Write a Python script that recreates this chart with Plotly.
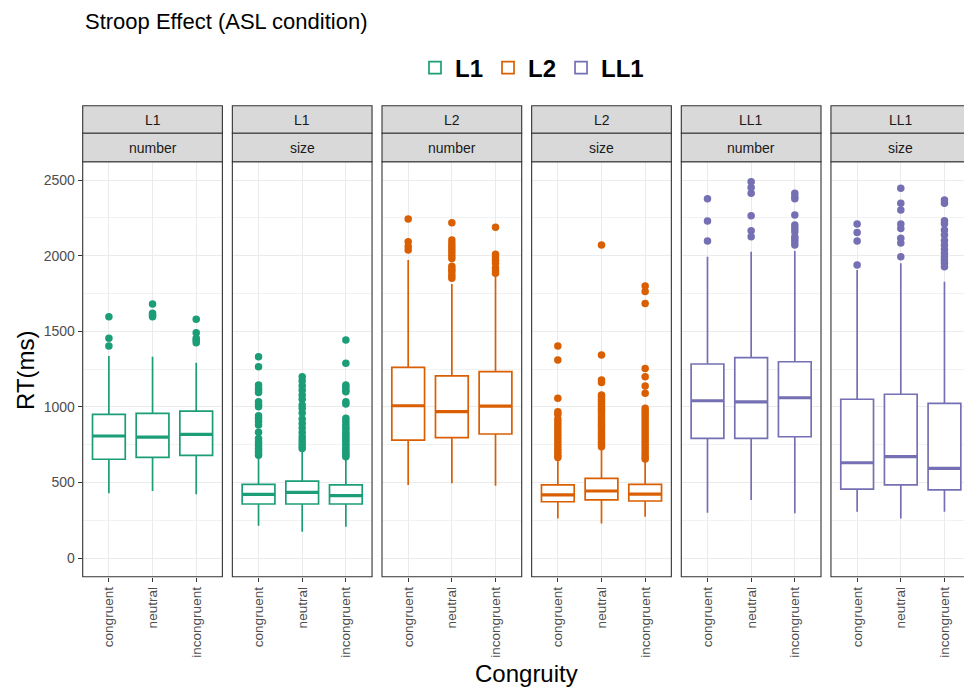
import plotly.graph_objects as go

# ---------------- data ----------------
conditions = ["congruent", "neutral", "incongruent"]
facet_groups = ["L1", "L1", "L2", "L2", "LL1", "LL1"]
facet_tasks = ["number", "size", "number", "size", "number", "size"]
group_colors = {"L1": "#1B9E77", "L2": "#D95F02", "LL1": "#7570B3"}

q1 = [[653, 666, 679], [357, 357, 357], [780, 796, 820],
      [372, 384, 377], [791, 791, 802], [456, 483, 450]]
median = [[807, 800, 818], [421, 434, 412], [1007, 968, 1005],
          [417, 443, 423], [1040, 1032, 1060], [630, 670, 593]]
q3 = [[950, 957, 972], [487, 509, 483], [1261, 1204, 1232],
      [483, 527, 487], [1283, 1325, 1298], [1050, 1083, 1023]]
lower_whisker = [[428, 443, 421], [214, 174, 207], [483, 494, 478],
                 [262, 229, 273], [300, 384, 296], [306, 262, 306]]
upper_whisker = [[1336, 1331, 1292], [665, 714, 657], [1971, 1812, 1861],
                 [648, 730, 645], [1993, 2026, 2030], [1905, 1949, 1827]]

outliers = [
    [[1596, 1453, 1402],
     [1680, 1618, 1605, 1596],
     [1579, 1490, 1453, 1440, 1424]],
    [[1331, 1265, 1144, 1125, 1110, 1095, 1034, 1015, 1000, 940, 924, 905, 880,
      831, 790, 769, 755, 740, 725, 710, 695, 680],
     [1199, 1170, 1140, 1110, 1078, 1050, 1012, 990, 959, 920, 890, 860, 830,
      802, 780, 760, 740, 725],
     [1442, 1288, 1144, 1130, 1110, 1100, 1034, 1019, 925, 905, 885, 865, 850,
      830, 815, 800, 785, 770, 755, 740, 725, 710, 695, 680, 670]],
    [[2242, 2092, 2060, 2037],
     [2218, 2103, 2080, 2060, 2040, 2020, 2000, 1980, 1930, 1910, 1894, 1870, 1850],
     [2187, 2009, 1990, 1970, 1949, 1918, 1900, 1883]],
    [[1402, 1310, 1056, 968, 950, 920, 900, 880, 860, 840, 820, 800, 780, 760,
      740, 720, 700, 680, 665],
     [2070, 1343, 1177, 1160, 1078, 1065, 1050, 1035, 1020, 1005, 990, 975, 960,
      945, 930, 915, 900, 885, 870, 855, 840, 825, 810, 795, 780, 765, 750, 736],
     [1799, 1762, 1684, 1254, 1199, 1138, 1089, 990, 970, 950, 930, 910, 890,
      870, 850, 830, 810, 790, 770, 750, 730, 710, 690, 670, 655]],
    [[2376, 2229, 2096],
     [2489, 2450, 2412, 2264, 2165, 2125],
     [2412, 2390, 2376, 2269, 2202, 2180, 2158, 2125, 2110, 2092, 2070]],
    [[2209, 2152, 2096, 1938],
     [2445, 2346, 2302, 2209, 2180, 2114, 2083, 1993],
     [2368, 2346, 2231, 2210, 2169, 2136, 2100, 2070, 2040, 2015, 1990, 1971,
      1950, 1927]],
]

y_ticks = [0, 500, 1000, 1500, 2000, 2500]

# ---------------- layout constants (pixels) ----------------
W, H = 964, 690
panel_left0 = 82.7
panel_step = 149.65
panel_w = 139.7
panel_top, panel_bot = 161.7, 576.7
strip_top, strip_mid = 105.7, 133.3
px_per_unit = panel_w / 3.2
FONT = "Liberation Sans, Arial, Helvetica, sans-serif"
GRID = "#EBEBEB"
DARK = "#333333"

fig = go.Figure()
x_pos = [1, 2, 3]
legend_shown = set()

for k in range(6):
    grp = facet_groups[k]
    col = group_colors[grp]
    xa = "x" if k == 0 else f"x{k+1}"
    show = grp not in legend_shown
    legend_shown.add(grp)
    fig.add_trace(go.Box(
        x=x_pos, q1=q1[k], median=median[k], q3=q3[k],
        lowerfence=lower_whisker[k], upperfence=upper_whisker[k],
        width=0.75, whiskerwidth=0, fillcolor="white",
        line=dict(color=col, width=1.7), boxpoints=False,
        name=grp, legendgroup=grp, showlegend=show,
        xaxis=xa, yaxis="y", hoverinfo="skip"))
    # thicker median line (ggplot style)
    mx, my = [], []
    for i, m in zip(x_pos, median[k]):
        mx += [i - 0.375, i + 0.375, None]
        my += [m, m, None]
    fig.add_trace(go.Scatter(x=mx, y=my, mode="lines",
                             line=dict(color=col, width=3.2),
                             showlegend=False, legendgroup=grp,
                             xaxis=xa, yaxis="y", hoverinfo="skip"))
    ox, oy = [], []
    for i, vals in zip(x_pos, outliers[k]):
        ox += [i] * len(vals)
        oy += vals
    fig.add_trace(go.Scatter(x=ox, y=oy, mode="markers",
                             marker=dict(color=col, size=7.5),
                             showlegend=False, legendgroup=grp,
                             xaxis=xa, yaxis="y", hoverinfo="skip"))

# y range from pixel mapping: 0 at 558px, 2500 at 180px
y_px_per_unit = (558 - 180) / 2500
y_min = -(panel_bot - 558) / y_px_per_unit
y_max = 2500 + (180 - panel_top) / y_px_per_unit

layout = dict(
    width=W, height=H,
    margin=dict(l=0, r=0, t=0, b=0),
    paper_bgcolor="white", plot_bgcolor="white",
    font=dict(family=FONT, color="#1A1A1A"),
    showlegend=True,
    legend=dict(orientation="h", x=532 / W, xanchor="center",
                y=1 - 68 / H, yanchor="middle",
                font=dict(size=24, color="black", weight="bold"),
                itemwidth=30, tracegroupgap=0, bgcolor="rgba(0,0,0,0)"),
    yaxis=dict(domain=[1 - panel_bot / H, 1 - panel_top / H],
               range=[y_min, y_max], anchor="x",
               tickvals=y_ticks, ticks="outside", ticklen=4,
               tickcolor=DARK, tickwidth=1,
               tickfont=dict(size=14, color="#4D4D4D", family=FONT),
               showgrid=True, gridcolor=GRID, gridwidth=1.1,
               minor=dict(dtick=250, tick0=250, showgrid=True,
                          gridcolor="#F2F2F2", gridwidth=0.8),
               zeroline=False, showline=False),
)

shapes = []
annotations = []
for k in range(6):
    left = panel_left0 + k * panel_step
    right = left + panel_w
    rng_hi = 3.6
    d_right = right / W
    if right > W:
        d_right = 1.0
        rng_hi = 0.4 + (W - left) / px_per_unit
    key = "xaxis" if k == 0 else f"xaxis{k+1}"
    layout[key] = dict(
        domain=[left / W, d_right], range=[0.4, rng_hi], anchor="y",
        tickvals=x_pos, ticktext=conditions, tickangle=-90,
        ticks="outside", ticklen=4, tickcolor=DARK, tickwidth=1,
        tickfont=dict(size=13.5, color="#4D4D4D", family=FONT),
        showgrid=True, gridcolor=GRID, gridwidth=1.1,
        zeroline=False, showline=False)
    # panel border
    shapes.append(dict(type="rect", xref="paper", yref="paper",
                       x0=left / W, x1=right / W,
                       y0=1 - panel_bot / H, y1=1 - panel_top / H,
                       line=dict(color=DARK, width=1.1),
                       fillcolor="rgba(0,0,0,0)", layer="above"))
    # strips
    for (t0, t1, txt) in [(strip_top, strip_mid, facet_groups[k]),
                          (strip_mid, panel_top, facet_tasks[k])]:
        shapes.append(dict(type="rect", xref="paper", yref="paper",
                           x0=left / W, x1=right / W,
                           y0=1 - t1 / H, y1=1 - t0 / H,
                           line=dict(color=DARK, width=1.1),
                           fillcolor="#D9D9D9", layer="above"))
        annotations.append(dict(xref="paper", yref="paper",
                                x=(left + right) / 2 / W,
                                y=1 - (t0 + t1) / 2 / H,
                                text=txt, showarrow=False,
                                xanchor="center", yanchor="middle",
                                font=dict(size=14, color="#1A1A1A", family=FONT)))

annotations.append(dict(xref="paper", yref="paper", x=83 / W, y=1 - 21 / H,
                        text="Stroop Effect (ASL condition)", showarrow=False,
                        xanchor="left", yanchor="middle",
                        font=dict(size=22, color="black", family=FONT)))
annotations.append(dict(xref="paper", yref="paper", x=25 / W, y=1 - 370 / H,
                        text="RT(ms)", textangle=-90, showarrow=False,
                        xanchor="center", yanchor="middle",
                        font=dict(size=24, color="black", family=FONT)))
annotations.append(dict(xref="paper", yref="paper", x=526 / W, y=1 - 673 / H,
                        text="Congruity", showarrow=False,
                        xanchor="center", yanchor="middle",
                        font=dict(size=24, color="black", family=FONT)))

layout["shapes"] = shapes
layout["annotations"] = annotations
fig.update_layout(**layout)

fig.write_html("out.html",
               config={"displayModeBar": False},
               post_script="document.body.style.margin='0';"
                           "document.body.style.overflow='hidden';")
